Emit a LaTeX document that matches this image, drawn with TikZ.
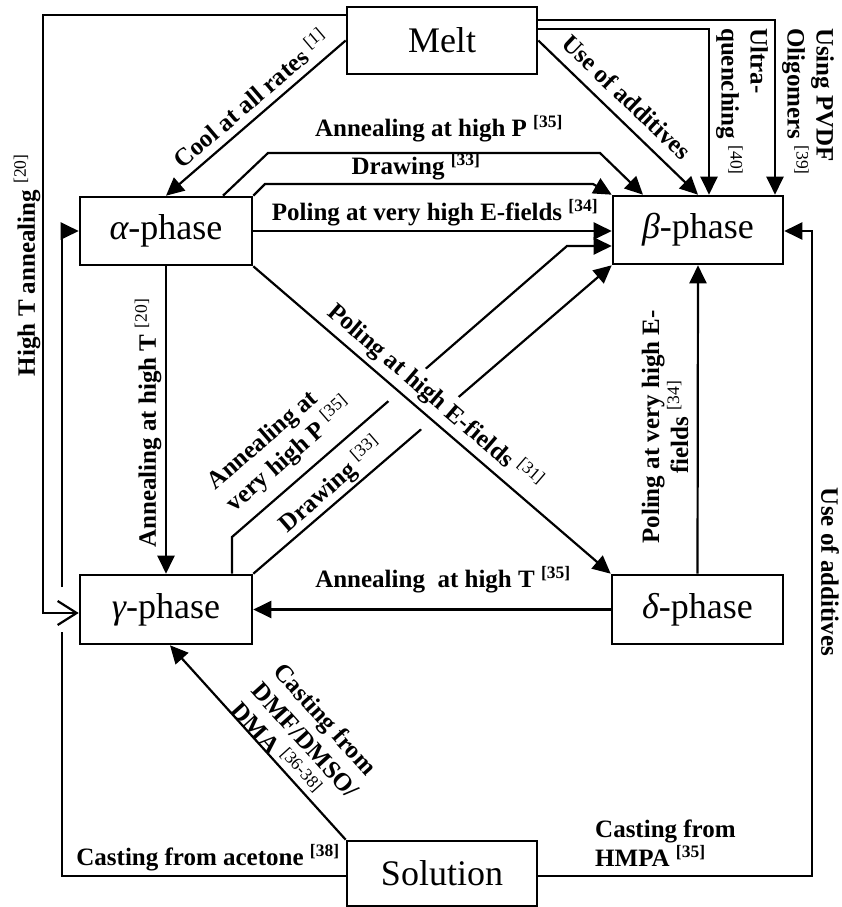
\documentclass[tikz,border=0pt]{standalone}
\usepackage{fontspec}
\setmainfont{Liberation Serif}
\usetikzlibrary{arrows.meta,calc}
\begin{document}
\begin{tikzpicture}[x=1pt,y=-1pt,
  box/.style={draw, line width=2.6pt, font=\fontsize{36}{40}\selectfont, inner sep=0pt},
  lbl/.style={font=\bfseries\fontsize{25}{29}\selectfont, inner sep=0pt},
  ln/.style={line width=2.2pt},
  arr/.style={ln, -{Triangle[length=18pt,width=17pt]}},
  barb/.style={ln, -{Straight Barb[length=19pt,width=24pt,line width=2.2pt]}}]
\useasboundingbox (0,0) rectangle (841,907);

% boxes
\node[box, minimum width=190pt, minimum height=67pt] (melt) at (442,40.5) {Melt};
\node[box, minimum width=172pt, minimum height=68pt] (alpha) at (166,231) {{\itshape α}-phase};
\node[box, minimum width=170pt, minimum height=68pt] (beta) at (698,230) {{\itshape β}-phase};
\node[box, minimum width=172pt, minimum height=69pt] (gamma) at (166,609.5) {{\itshape γ}-phase};
\node[box, minimum width=171pt, minimum height=69pt] (delta) at (697.5,609.5) {{\itshape δ}-phase};
\node[box, minimum width=190pt, minimum height=65pt] (sol) at (442,873.5) {Solution};

% helper coordinates
\coordinate (hl) at (43,613);
\coordinate (sl) at (62,876);
\coordinate (sg1) at (62,632);
\coordinate (sg2) at (62,587);
\coordinate (sa) at (62,231);
\coordinate (rr) at (812,231);
\coordinate (p1) at (268,153);
\coordinate (p2) at (600,153);
\coordinate (d1) at (265,184);
\coordinate (d2) at (593,184);
\coordinate (g1) at (232,537);
\coordinate (g2) at (567,246);

% connectors
\draw[arr] (melt.west) -- (alpha.north);
\draw[barb] ($(melt.north west)+(0,9)$) -| (hl) -- (gamma.west |- hl);
\draw[ln] (sol.west |- sl) -- (sl) -- (sg1);
\draw[arr] (sg2) -- (sa) -- (alpha.west);
\draw[arr] (sol.north west) -- ([xshift=4pt]gamma.south);
\draw[arr] (sol.east |- sl) -| (rr) -- (beta.east |- rr);
\draw[arr] (melt.east) -- (beta.north);
\draw[arr] ($(melt.north east)+(0,23)$) -| ([xshift=11pt]beta.north);
\draw[arr] ($(melt.north east)+(0,14)$) -| ([xshift=77pt]beta.north);
\draw[arr] ([xshift=57pt]alpha.north) -- (p1) -- (p2) -- ([xshift=-55pt]beta.north);
\draw[arr] (alpha.north east) -- (d1) -- (d2) -- (beta.north west);
\draw[arr] (alpha.east) -- (alpha.east -| beta.west);
\draw[arr] (alpha.south) -- (gamma.north);
\draw[arr] ([xshift=66pt]gamma.north) -- (g1) -- (g2) -- (beta.west |- g2);
\draw[arr] (gamma.north east) -- (beta.south west);
\draw[arr] (delta.west) -- (gamma.east);
\draw[arr] (delta.north) -- (beta.south);
\draw[white, line width=28pt] ($(alpha.south east)!0.3!(delta.north west)$) -- ($(alpha.south east)!0.62!(delta.north west)$);
\draw[arr] (alpha.south east) -- (delta.north west);

% labels
\node[lbl, rotate=40.5] at (250,98) {Cool at all rates \textsuperscript{\mdseries[1]}};
\node[lbl, rotate=90] at (27,265) {High T annealing \textsuperscript{\mdseries[20]}};
\node[lbl] at (208,858) {Casting from acetone \textsuperscript{[38]}};
\node[lbl, rotate=-48, align=left] at (306,740) {Casting from\\DMF/DMSO/\\DMA \textsuperscript{\mdseries[36-38]}};
\node[lbl, anchor=west, align=left] at (595,843) {Casting from\\HMPA \textsuperscript{[35]}};
\node[lbl, rotate=-90] at (830,572) {Use of additives};
\node[lbl, rotate=-43.5] at (627,97) {Use of additives};
\node[lbl, rotate=-90, anchor=west, align=left] at (742,28) {Ultra-\\quenching \textsuperscript{\mdseries[40]}};
\node[lbl, rotate=-90, anchor=west, align=left] at (808,28) {Using PVDF\\Oligomers \textsuperscript{\mdseries[39]}};
\node[lbl] at (439,129) {Annealing at high P \textsuperscript{[35]}};
\node[lbl] at (416,167) {Drawing \textsuperscript{[33]}};
\node[lbl] at (435,213) {Poling at very high E-fields \textsuperscript{[34]}};
\node[lbl, rotate=90] at (148,423) {Annealing at high T \textsuperscript{\mdseries[20]}};
\node[lbl, rotate=-40.7, fill=white, inner sep=2pt] at (435,397) {Poling at high E-fields \textsuperscript{\mdseries[31]}};
\node[lbl, rotate=41, align=left] at (281,445) {Annealing at\\very high P \textsuperscript{\mdseries[35]}};
\node[lbl, rotate=41] at (331,485) {Drawing \textsuperscript{\mdseries[33]}};
\node[lbl] at (443,580) {Annealing\ \ at high T \textsuperscript{[35]}};
\node[lbl, rotate=90, align=center] at (665,427) {Poling at very high E-\\fields \textsuperscript{\mdseries[34]}};
\end{tikzpicture}
\end{document}
